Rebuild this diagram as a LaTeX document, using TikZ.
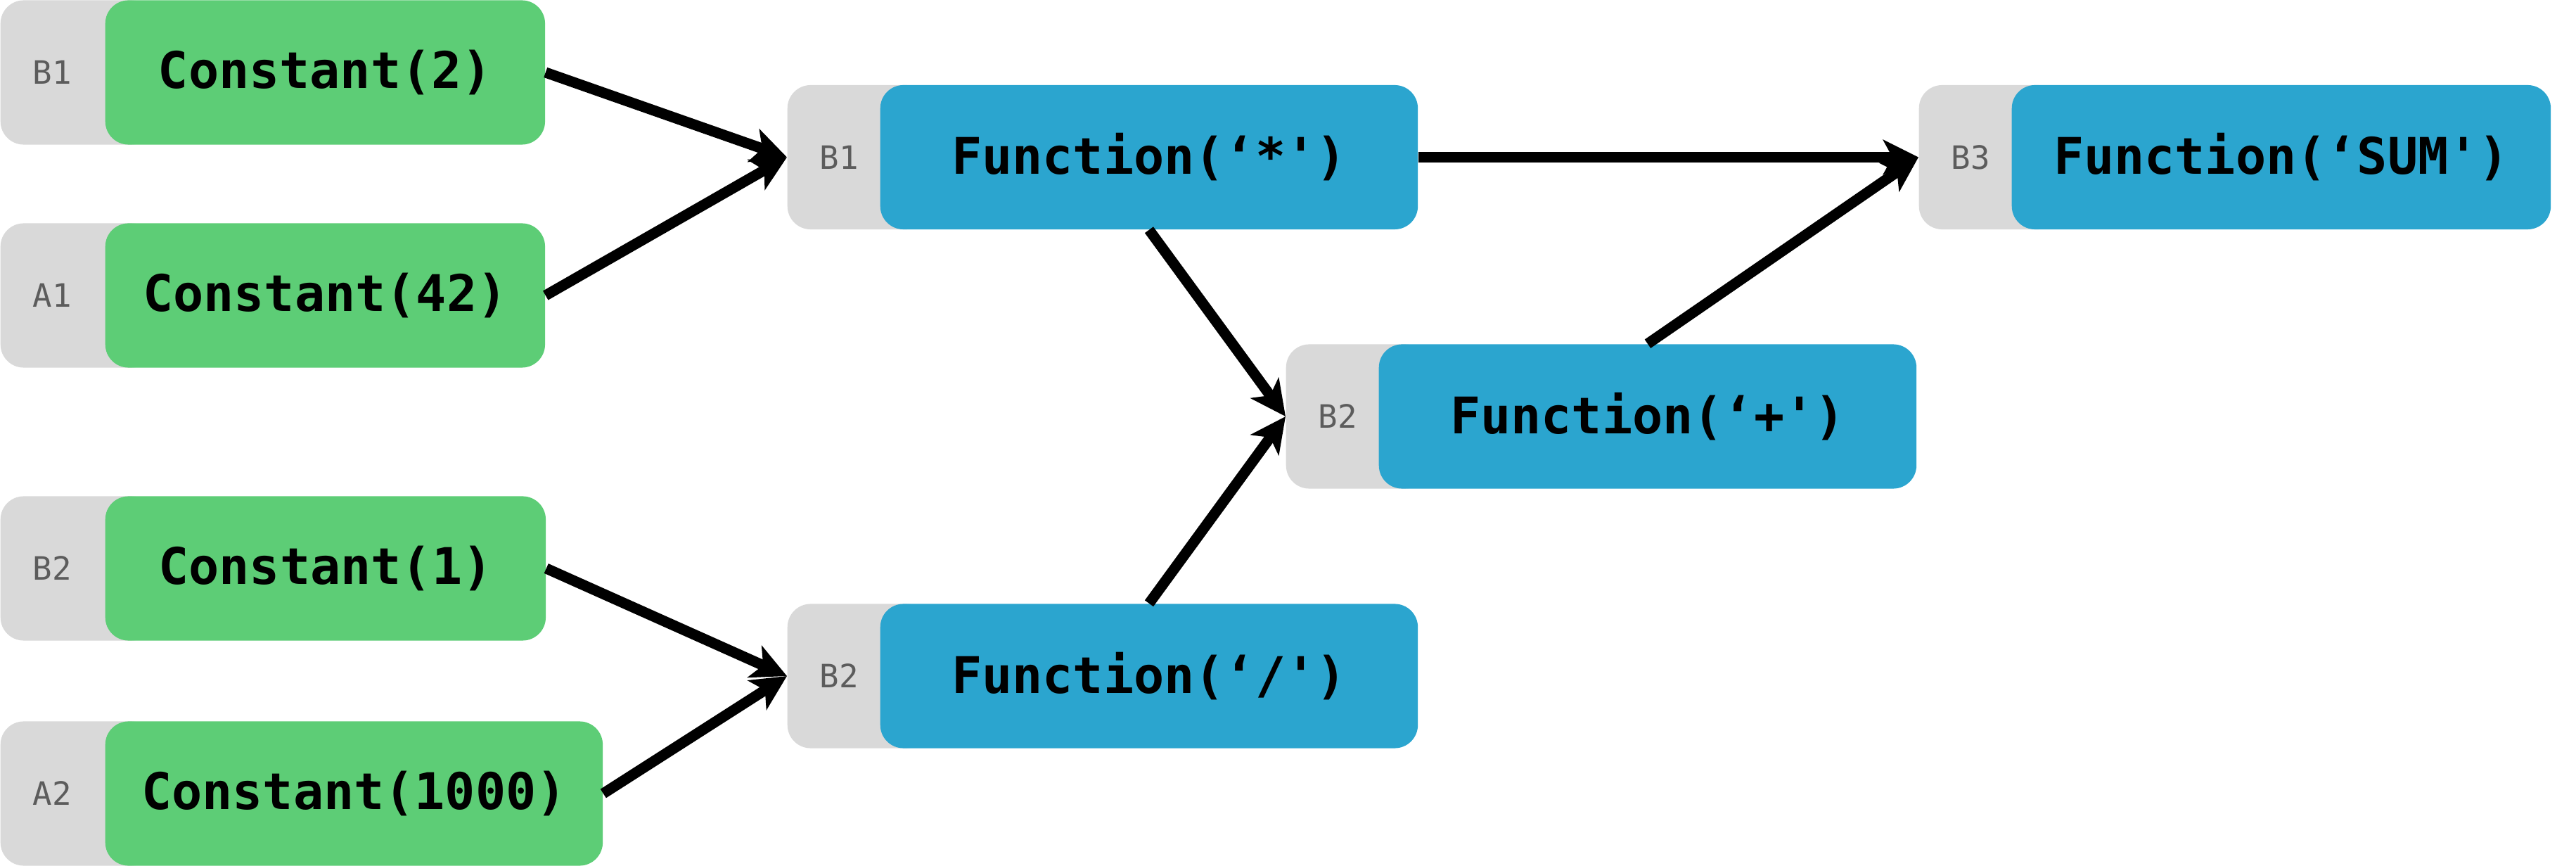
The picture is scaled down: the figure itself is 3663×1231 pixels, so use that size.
\documentclass[tikz,border=0pt]{standalone}
\usepackage{fontspec}
\setmonofont{DejaVu Sans Mono}
\usetikzlibrary{arrows.meta}
\definecolor{constfill}{HTML}{5DCD76}
\definecolor{funcfill}{HTML}{2BA5CF}
\definecolor{tagfill}{HTML}{D9D9D9}
\definecolor{tagtext}{HTML}{5C5C5C}
\begin{document}
\begin{tikzpicture}[x=0.01cm,y=-0.01cm,
  blockbox/.style={rectangle, rounded corners=0.33cm, minimum height=2.05cm,
    inner sep=0pt, anchor=west, text=black,
    font=\ttfamily\bfseries\fontsize{20.4pt}{22pt}\selectfont},
  constbox/.style={blockbox, fill=constfill},
  funcbox/.style={blockbox, fill=funcfill, minimum width=7.64cm},
  tagbox/.style={rectangle, rounded corners=0.33cm, minimum height=2.05cm,
    inner ysep=0pt, inner xsep=0.46cm, align=left, anchor=west,
    fill=tagfill, text=tagtext, font=\ttfamily\fontsize{13pt}{14pt}\selectfont},
  consttag/.style={tagbox, text width=1.27cm},
  functag/.style={tagbox, text width=1.10cm},
  flow/.style={line width=4.27pt, -{Stealth[length=0.5cm, width=0.49cm, inset=0.13cm]}}
]
\useasboundingbox (0,0) rectangle (3663,1231);

% constant cells
\node[consttag] (c2t) at (0,103) {B1};
\node[constbox, minimum width=6.25cm] (c2) at (149,103) {Constant(2)};
\node[consttag] (c42t) at (0,420) {A1};
\node[constbox, minimum width=6.25cm] (c42) at (149,420) {Constant(42)};
\node[consttag] (c1t) at (0,808) {B2};
\node[constbox, minimum width=6.26cm] (c1) at (149,808) {Constant(1)};
\node[consttag] (c1000t) at (0,1128) {A2};
\node[constbox, minimum width=7.07cm] (c1000) at (149,1128) {Constant(1000)};

% function cells
\node[functag] (fmult) at (1119,223.5) {B1};
\node[funcbox] (fmul) at (1251,223.5) {Function(‘*')};
\node[functag] (fdivt) at (1119,961) {B2};
\node[funcbox] (fdiv) at (1251,961) {Function(‘/')};
\node[functag] (faddt) at (1828,592) {B2};
\node[funcbox] (fadd) at (1960,592) {Function(‘+')};
\node[functag] (fsumt) at (2728,223.5) {B3};
\node[funcbox, minimum width=7.66cm] (fsum) at (2860,223.5) {Function(‘SUM')};

% dependencies
\draw[flow] (c2.east) -- (fmult.west);
\draw[flow] (c42.east) -- (fmult.west);
\draw[flow] (c1.east) -- (fdivt.west);
\draw[flow] (c1000.east) -- (fdivt.west);
\draw[flow] (fmul.south) -- (faddt.west);
\draw[flow] (fdiv.north) -- (faddt.west);
\draw[flow] (fmul.east) -- (fsumt.west);
\draw[flow] (fadd.north) -- (fsumt.west);
\end{tikzpicture}
\end{document}
